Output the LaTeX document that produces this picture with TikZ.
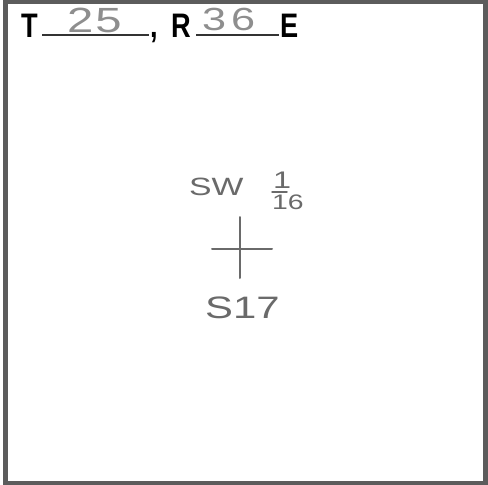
\documentclass[tikz,border=0pt]{standalone}
\usepackage{fontspec}
\setmainfont{Liberation Sans}
\newfontfamily\formfont[FakeStretch=0.8]{Liberation Sans}
\newfontfamily\handfont[FakeStretch=1.35]{Liberation Sans}
\usetikzlibrary{positioning}
\definecolor{frameGray}{HTML}{5C5C5C}
\definecolor{inkGray}{HTML}{8E8E8E}
\definecolor{pencilGray}{HTML}{6A6A6A}
\tikzset{
  printed/.style={anchor=base west, inner sep=0pt, text=black,
                  font=\formfont\bfseries\fontsize{34}{34}\selectfont},
  blank/.style={line width=1.6pt, color=black!80},
  hand/.style={anchor=base west, inner sep=0pt, text=#1, font=\handfont\fontsize{30}{30}\selectfont},
  pencil/.style={line width=2pt, color=pencilGray, line cap=round},
}
\begin{document}
\begin{tikzpicture}[x=1pt, y=-1pt]
\useasboundingbox (0,0) rectangle (488,485);
\fill[white] (0,0) rectangle (488,485);
% form border
\draw[frameGray, line width=4.5pt] (5.5,1.5) rectangle (485.5,483.5);

% heading: township and range
\node[printed] (twp) at (21,37) {T};
\coordinate (twpA) at (42,35);
\coordinate (twpB) at (149,35);
\draw[blank] (twpA) -- (twpB);
\node[printed] (comma) at (150,37) {,};
\node[printed] (rng) at (171,37) {R};
\coordinate (rngA) at (196,35);
\coordinate (rngB) at (279,35);
\draw[blank] (rngA) -- (rngB);
\node[printed] (east) at (280,37) {E};

% handwritten entries
\node[hand=inkGray, font=\handfont\fontsize{35}{35}\selectfont] (twpno) at (67,32) {2\hspace{2pt}5};
\node[hand=inkGray, font=\handfont\fontsize{32}{32}\selectfont] (rngno) at (202,30) {3\hspace{5pt}6};

% corner label
\node[hand=pencilGray, font=\handfont\fontsize{25}{25}\selectfont] (quarter) at (189,195) {SW};
\node[hand=pencilGray, font=\handfont\fontsize{24}{24}\selectfont] (num) at (273,188) {1};
\coordinate (barA) at (272,192);
\coordinate (barB) at (287,192);
\draw[pencil, line width=1.5pt] (barA) -- (barB);
\node[hand=pencilGray, font=\handfont\fontsize{21}{21}\selectfont] (den) at (272,209) {16};

% section corner
\coordinate (crossN) at (240,217);
\coordinate (crossS) at (240,278);
\coordinate (crossW) at (212,249);
\coordinate (crossE) at (272,249);
\draw[pencil] (crossN) -- (crossS);
\draw[pencil] (crossW) -- (crossE);

\node[hand=pencilGray, font=\handfont\fontsize{31}{31}\selectfont] (sec) at (205,318) {S17};
\end{tikzpicture}
\end{document}
